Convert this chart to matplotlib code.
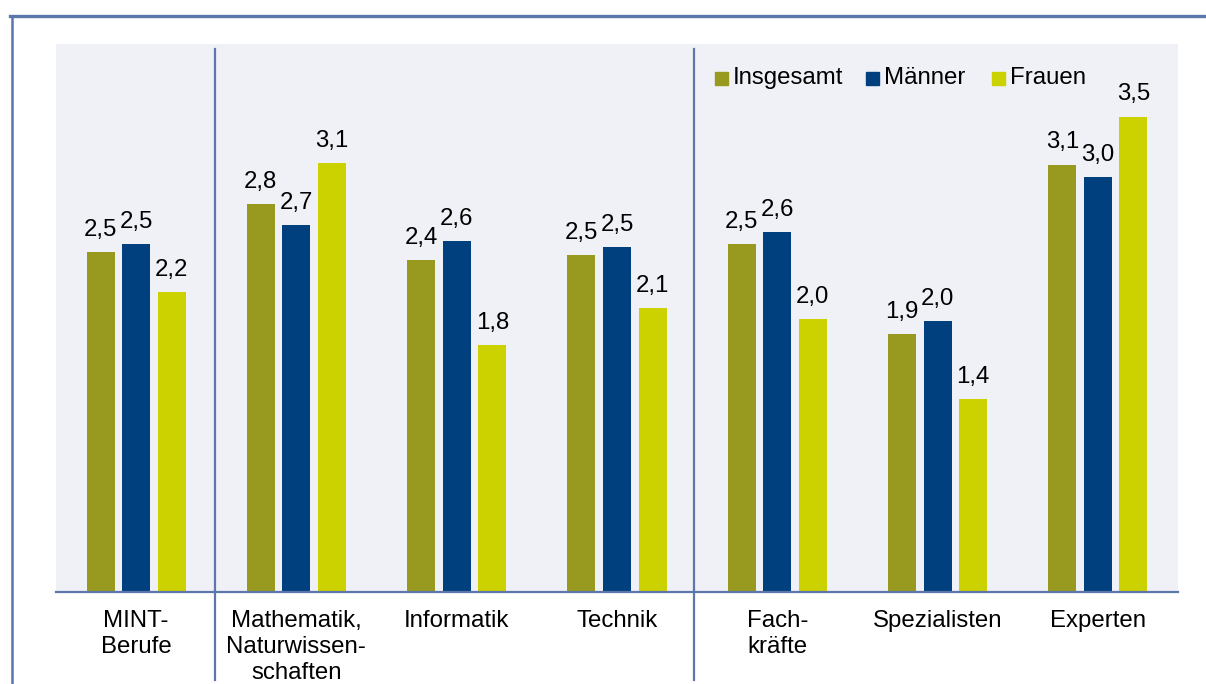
import matplotlib
matplotlib.use("Agg")
import matplotlib.pyplot as plt
from matplotlib.lines import Line2D
from matplotlib.patches import Rectangle
import numpy as np

plt.rcParams['font.family'] = ['Liberation Sans', 'DejaVu Sans']

categories = ["MINT-\nBerufe", "Mathematik,\nNaturwissen-\nschaften", "Informatik",
              "Technik", "Fach-\nkräfte", "Spezialisten", "Experten"]
series_names = ["Insgesamt", "Männer", "Frauen"]
insgesamt = [2.48, 2.83, 2.42, 2.46, 2.54, 1.88, 3.12]
maenner = [2.54, 2.68, 2.56, 2.52, 2.63, 1.98, 3.03]
frauen = [2.19, 3.13, 1.80, 2.07, 1.99, 1.41, 3.47]
colors = ["#989A20", "#00407E", "#CCD100"]

W, H = 1206, 684
fig = plt.figure(figsize=(W / 100, H / 100), dpi=100)
fig.patch.set_facecolor("white")

ax = fig.add_axes([56 / W, (H - 592) / H, (1178 - 56) / W, (592 - 44) / H])
ax.set_facecolor("#F0F1F7")

x = np.arange(len(categories))
bw = 0.175
step = 0.222
series = [insgesamt, maenner, frauen]
for i, (vals, col) in enumerate(zip(series, colors)):
    pos = x + (i - 1) * step
    bars = ax.bar(pos, vals, width=bw, color=col, zorder=2)
    for b, v in zip(bars, vals):
        ax.annotate(f"{v:.1f}".replace(".", ","),
                    (b.get_x() + b.get_width() / 2, v),
                    xytext=(0, 8), textcoords="offset points",
                    ha="center", va="bottom", fontsize=17.3, color="black")

ax.set_xlim(-0.5, len(categories) - 0.5)
ax.set_ylim(0, 4.0)
ax.set_yticks([])
ax.set_xticks(x)
ax.set_xticklabels(categories, fontsize=17.3, linespacing=1.24)
ax.tick_params(axis="x", length=0, pad=13)
for s in ["top", "left", "right"]:
    ax.spines[s].set_visible(False)
ax.spines["bottom"].set_color("#5B77AB")
ax.spines["bottom"].set_linewidth(1.6)

sepcol = "#5B77AB"
for sx in [0.49, 3.48]:
    ax.plot([sx, sx], [0.99, -0.16], transform=ax.get_xaxis_transform(),
            color=sepcol, lw=1.6, clip_on=False, zorder=3)

# legend (manual)
leg_items = [(715, "Insgesamt"), (866, "Männer"), (992, "Frauen")]
for (px, name), col in zip(leg_items, colors):
    fig.patches.append(Rectangle((px / W, (H - 85) / H), 13 / W, 13 / H,
                                 transform=fig.transFigure, color=col))
    fig.text((px + 18) / W, (H - 78) / H, name, fontsize=17.3,
             va="center", ha="left", color="black")

# outer frame
fig.add_artist(Line2D([10 / W, 1], [(H - 16) / H, (H - 16) / H], color="#5B77AB", lw=2.4))
fig.add_artist(Line2D([11.5 / W, 11.5 / W], [(H - 16) / H, 0], color="#5B77AB", lw=1.8))

fig.savefig("out.png", dpi=100)
